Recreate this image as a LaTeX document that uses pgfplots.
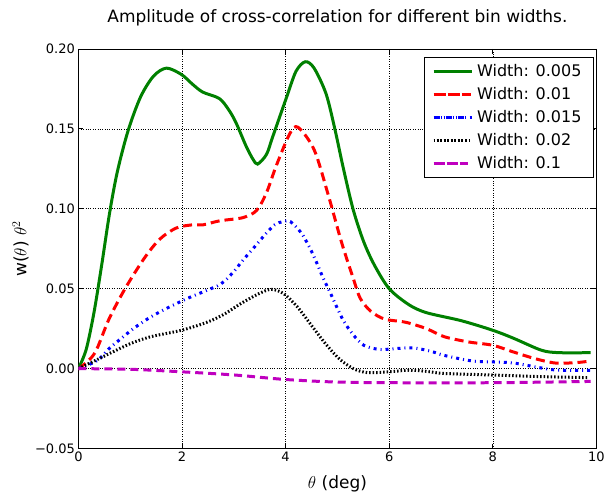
\documentclass[border=0pt]{standalone}
\usepackage{pgfplots}
\pgfplotsset{compat=1.18}
\usepackage{fontspec}
\setmainfont{DejaVu Sans}
\definecolor{mgreen}{rgb}{0,0.5,0}
\definecolor{mmag}{rgb}{0.75,0,0.75}
\begin{document}
\begin{tikzpicture}
\begin{axis}[
  name=ax,
  scale only axis,
  width=518.5bp, height=400bp,
  xmin=0, xmax=10, ymin=-0.05, ymax=0.20,
  xtick={0,2,4,6,8,10},
  ytick={-0.05,0,0.05,0.10,0.15,0.20},
  yticklabels={\textminus0.05,0.00,0.05,0.10,0.15,0.20},
  /pgf/number format/assume math mode=true,
  scaled y ticks=false,
  tick label style={font=\fontsize{13bp}{15bp}\selectfont},
  tick align=inside,
  major tick length=5bp,
  tick style={black, line width=0.8bp},
  axis line style={line width=0.9bp},
  grid=major,
  major grid style={black, dotted, line width=0.6bp},
  title={Amplitude of cross-correlation for different bin widths.},
  title style={font=\fontsize{17bp}{20bp}\selectfont, at={(0.5,1)}, anchor=base, yshift=20bp},
  xlabel={$\theta$ (deg)},
  xlabel style={font=\fontsize{17bp}{20bp}\selectfont, at={(0.5,0)}, anchor=base, yshift=-40bp},
  ylabel={w($\theta$) $\theta^2$},
  ylabel style={font=\fontsize{17bp}{20bp}\selectfont, at={(axis description cs:-0.112,0.5)}, anchor=center},
  legend style={at={(rel axis cs:0.995,0.98)}, anchor=north east, draw=black, line width=0.8bp, fill=white,
    font=\fontsize{16bp}{19bp}\selectfont, row sep=5.5bp, inner xsep=8bp, inner ysep=5bp,
    nodes={inner xsep=4bp}},
  legend cell align=left,
  legend image code/.code={\draw[#1] (0bp,0bp) -- (27bp,0bp); \path (-3bp,0bp) -- (35bp,0bp);},
]
\addplot[mgreen, line width=3bp, smooth, tension=0.5] coordinates {
(0,0) (0.15,0.012) (0.3,0.035) (0.45,0.065) (0.6,0.097) (0.75,0.123) (0.96,0.149) (1.2,0.170) (1.45,0.183) (1.7,0.188)
(1.99,0.184) (2.2,0.178) (2.4,0.173) (2.72,0.169) (2.9,0.162) (3.04,0.154) (3.24,0.139) (3.37,0.131) (3.46,0.128)
(3.63,0.134) (3.75,0.145) (4.01,0.169) (4.2,0.186) (4.38,0.192) (4.55,0.188) (4.78,0.172) (4.95,0.150)
(5.11,0.126) (5.30,0.100) (5.5,0.080) (5.71,0.065) (6.0,0.050) (6.38,0.040) (6.72,0.035) (7.39,0.030)
(8.0,0.024) (8.4,0.019) (8.94,0.0115) (9.28,0.010) (9.89,0.010)};
\addlegendentry{Width: 0.005}
\addplot[red, line width=3bp, dash pattern=on 9bp off 5bp, smooth, tension=0.5] coordinates {
(0,0) (0.05,0.001) (0.32,0.010) (0.59,0.031) (0.90,0.05) (1.27,0.069) (1.57,0.081) (1.89,0.088)
(2.21,0.090) (2.41,0.090) (2.73,0.0925) (3.18,0.0945) (3.44,0.099) (3.63,0.110) (3.82,0.127) (4.08,0.147)
(4.24,0.151) (4.55,0.137) (4.82,0.109) (5.08,0.079) (5.31,0.056) (5.44,0.044) (5.64,0.036) (5.91,0.031)
(6.32,0.029) (6.72,0.025) (7.06,0.020) (7.53,0.0167) (8.0,0.0146) (8.4,0.0104) (8.81,0.0063) (9.21,0.0035)
(9.62,0.0038) (9.89,0.0048)};
\addlegendentry{Width: 0.01}
\addplot[blue, line width=3bp, dash pattern=on 3bp off 4bp on 1bp off 4bp, smooth, tension=0.5] coordinates {
(0,0) (0.36,0.005) (0.59,0.0125) (0.83,0.019) (1.06,0.025) (1.33,0.031) (1.60,0.036) (1.91,0.041)
(2.18,0.045) (2.48,0.049) (2.75,0.053) (2.98,0.060) (3.18,0.068) (3.37,0.075) (3.58,0.083) (3.79,0.090)
(3.95,0.092) (4.09,0.092) (4.30,0.085) (4.46,0.076) (4.59,0.067) (4.72,0.057) (4.84,0.049) (5.10,0.031)
(5.31,0.021) (5.51,0.0146) (5.81,0.012) (6.11,0.0125) (6.45,0.013) (6.79,0.011) (7.06,0.0083) (7.60,0.0048)
(8.0,0.0042) (8.4,0.0035) (8.94,0.0004) (9.28,-0.001) (9.89,-0.001)};
\addlegendentry{Width: 0.015}
\addplot[black, line width=3bp, dash pattern=on 1.5bp off 2bp, smooth, tension=0.5] coordinates {
(0,0) (0.32,0.005) (0.66,0.0104) (1.0,0.0156) (1.40,0.020) (1.99,0.024) (2.48,0.029) (2.81,0.034)
(3.15,0.041) (3.49,0.047) (3.72,0.0496) (3.96,0.047) (4.23,0.0385) (4.50,0.027) (4.77,0.0156) (5.04,0.006)
(5.31,0.0) (5.58,-0.0025) (5.98,-0.002) (6.38,-0.001) (6.72,-0.0017) (7.06,-0.003) (8.0,-0.004)
(8.94,-0.005) (9.82,-0.0056)};
\addlegendentry{Width: 0.02}
\addplot[mmag, line width=3bp, dash pattern=on 8bp off 5bp, smooth, tension=0.5] coordinates {
(0,0) (1.0,-0.0004) (2.0,-0.002) (3.02,-0.004) (3.96,-0.0067) (4.9,-0.0083) (5.98,-0.0088) (8.0,-0.0088) (9.89,-0.008)};
\addlegendentry{Width: 0.1}
\end{axis}
\path (ax.south west) ++(-78.5bp,-47bp) rectangle ++(608bp,496bp);
\end{tikzpicture}
\end{document}
